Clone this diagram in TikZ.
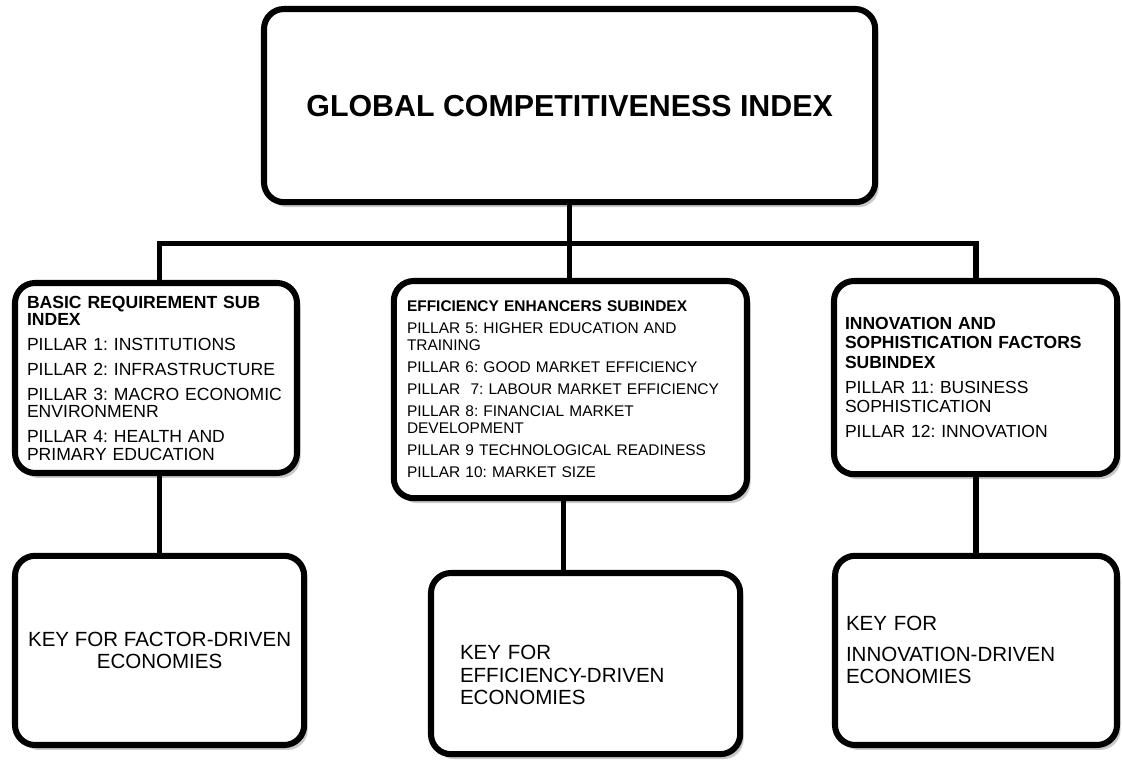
\documentclass[tikz,border=0pt]{standalone}
\usepackage{fontspec}
\setmainfont{Liberation Sans}
\frenchspacing
\usetikzlibrary{shadows}
\tikzset{
  every picture/.style={line width=3.6pt},
  box/.style={draw=black, fill=white, rounded corners=0.5cm, line width=4.3pt,
    drop shadow={shadow xshift=2.5pt, shadow yshift=-3.5pt, fill=black!30, opacity=0.7}},
  subbox/.style={box, align=left, inner xsep=0.3cm},
  keybox/.style={box, font=\fontsize{14.6}{16}\selectfont},
  link/.style={draw=black, line width=3.6pt},
}

\begin{document}
\begin{tikzpicture}
  \useasboundingbox (0,0) rectangle (28.05,-19);
  \node[box, minimum width=15.28cm, minimum height=4.83cm, font=\fontsize{21.6}{26}\selectfont\bfseries] (gci) at (14.24,-2.64) {GLOBAL COMPETITIVENESS INDEX};
  % sub indexes
  \node[subbox, minimum width=7.05cm, minimum height=4.75cm, text width=6.45cm, font=\fontsize{12.5}{12.3}\selectfont] (basic) at (3.9,-9.45) {\textbf{BASIC REQUIREMENT SUB}\\\textbf{INDEX}\\[5.5pt] PILLAR 1: INSTITUTIONS\\[5.5pt] PILLAR 2: INFRASTRUCTURE\\[5.5pt] PILLAR 3: MACRO ECONOMIC\\ENVIRONMENR\\[5.5pt] PILLAR 4: HEALTH AND\\PRIMARY EDUCATION};
  \node[subbox, minimum width=8.83cm, minimum height=5.43cm, inner xsep=0.33cm, text width=8.17cm, font=\fontsize{11}{11.8}\selectfont] (eff) at (14.26,-9.74) {\textbf{EFFICIENCY ENHANCERS SUBINDEX}\\[3.6pt] PILLAR 5: HIGHER EDUCATION AND\\TRAINING\\[4pt] PILLAR 6: GOOD MARKET EFFICIENCY\\[4pt] PILLAR\ \ 7: LABOUR MARKET EFFICIENCY\\[4pt] PILLAR 8: FINANCIAL MARKET\\DEVELOPMENT\\[4pt] PILLAR 9 TECHNOLOGICAL READINESS\\[4pt] PILLAR 10: MARKET SIZE};
  \node[subbox, minimum width=7.08cm, minimum height=4.83cm, inner xsep=0.275cm, text width=6.53cm, font=\fontsize{12.45}{13.9}\selectfont] (inno) at (24.39,-9.44) {\textbf{INNOVATION AND}\\\textbf{SOPHISTICATION FACTORS}\\\textbf{SUBINDEX}\\[3.9pt] PILLAR 11: BUSINESS\\SOPHISTICATION\\[3.9pt] PILLAR 12: INNOVATION};
  % keys
  \node[keybox, minimum width=7.23cm, minimum height=4.73cm, align=center] (keyfac) at (3.99,-16.26) {KEY FOR FACTOR-DRIVEN\\ECONOMIES};
  \node[keybox, minimum width=7.73cm, minimum height=4.53cm, align=left, inner xsep=0.725cm, text width=6.28cm] (keyeff) at (14.64,-16.59) {\rule{0pt}{27pt}KEY FOR\\EFFICIENCY-DRIVEN\\ECONOMIES};
  \node[keybox, minimum width=7.05cm, minimum height=4.73cm, align=left, inner xsep=0.275cm, text width=6.5cm] (keyinn) at (24.4,-16.26) {KEY FOR\\[5.7pt]INNOVATION-DRIVEN\\ECONOMIES};
  % tree lines
  \coordinate (barL) at (3.99,-6.08);
  \coordinate (barR) at (24.4,-6.08);
  \draw[link] (gci.south) -- (gci.south |- eff.north);
  \draw[link] (barL |- basic.north) -- (barL) -- (barR) -- (barR |- inno.north);
  \draw[link] (keyfac.north) -- (keyfac.north |- basic.south);
  \draw[link] ([xshift=-0.56cm]keyeff.north) -- ([xshift=-0.56cm]keyeff.north |- eff.south);
  \draw[link] (keyinn.north) -- (keyinn.north |- inno.south);
\end{tikzpicture}
\end{document}
